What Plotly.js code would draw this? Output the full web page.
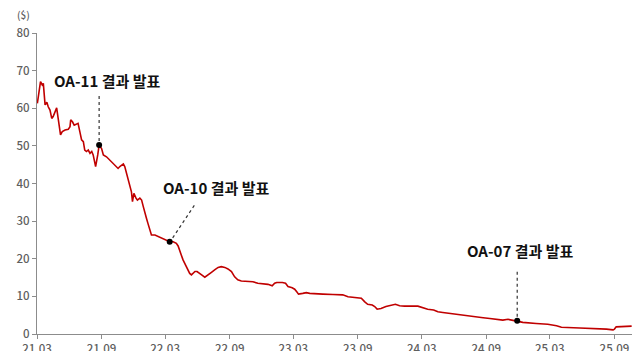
<!DOCTYPE html>
<html>
<head>
<meta charset="utf-8">
<script src="https://cdn.plot.ly/plotly-3.0.1.min.js"></script>
<style>
  html, body { margin: 0; padding: 0; background: #fff; }
  #chart { width: 640px; height: 351px; }
</style>
</head>
<body>
<div id="chart"></div>
<script>
// Share price, US dollars
const dates = [
  '2021-03-02','2021-03-05','2021-03-11','2021-03-16','2021-03-19','2021-03-24','2021-03-29',
  '2021-04-02','2021-04-07','2021-04-12','2021-04-16','2021-04-26','2021-04-30',
  '2021-05-07','2021-05-12','2021-05-20','2021-05-29','2021-06-03','2021-06-05','2021-06-10',
  '2021-06-15','2021-06-22','2021-06-26','2021-07-01','2021-07-06','2021-07-11','2021-07-15',
  '2021-07-20','2021-07-25','2021-07-30','2021-08-04','2021-08-08','2021-08-15','2021-08-21',
  '2021-08-25','2021-09-01','2021-09-06','2021-09-15','2021-09-25','2021-10-04','2021-10-14',
  '2021-10-18','2021-10-23','2021-11-02','2021-11-06','2021-11-11','2021-11-16','2021-11-21',
  '2021-11-25','2021-11-28','2021-12-02','2021-12-08','2021-12-12','2021-12-19','2021-12-24',
  '2021-12-29','2022-01-02','2022-01-07','2022-01-11','2022-01-16','2022-01-21','2022-01-31',
  '2022-02-09','2022-02-18','2022-02-28','2022-03-14','2022-03-24','2022-04-02','2022-04-07',
  '2022-04-12','2022-04-16','2022-04-21','2022-04-26','2022-05-01','2022-05-06','2022-05-10',
  '2022-05-15','2022-05-20','2022-05-25','2022-05-31','2022-06-06','2022-06-13','2022-06-22',
  '2022-07-02','2022-07-11','2022-07-21','2022-07-30','2022-08-08','2022-08-18','2022-08-27',
  '2022-09-06','2022-09-15','2022-09-24','2022-10-04','2022-10-18','2022-11-06','2022-11-20',
  '2022-12-05','2022-12-19','2022-12-31','2023-01-07','2023-01-13','2023-01-29','2023-02-07',
  '2023-02-14','2023-02-26','2023-03-05','2023-03-11','2023-03-16','2023-03-28','2023-04-07',
  '2023-04-17','2023-05-10','2023-05-24','2023-06-22','2023-07-20','2023-08-04','2023-08-18',
  '2023-09-11','2023-09-20','2023-09-29','2023-10-12','2023-10-19','2023-10-26','2023-11-06',
  '2023-11-20','2023-12-05','2023-12-17','2023-12-29','2024-01-12','2024-02-19','2024-03-04',
  '2024-03-18','2024-04-04','2024-04-16','2024-04-30','2024-05-29','2024-06-27','2024-07-25',
  '2024-08-23','2024-09-11','2024-10-18','2024-11-02','2024-11-28','2024-12-14','2025-01-21',
  '2025-02-23','2025-03-20','2025-04-03','2025-05-25','2025-07-11','2025-08-09','2025-08-28',
  '2025-09-01','2025-09-06','2025-09-20','2025-10-04','2025-10-20'
];
const prices = [
  61.3, 63.5, 67.1, 66.2, 66.6, 60.9, 61.6,
  60.4, 59.5, 57.3, 57.8, 60.1, 57.8,
  52.9, 53.8, 54.2, 54.4, 55.1, 56.9, 56.4,
  55.5, 55.7, 56.0, 53.8, 51.6, 51.1, 48.9,
  48.5, 48.9, 48.0, 48.5, 47.6, 44.5, 47.6,
  50.2, 49.3, 47.6, 47.1, 46.2, 45.4, 44.5,
  44.0, 44.5, 45.2, 44.5, 42.7, 40.5, 39.1,
  37.8, 35.2, 37.4, 36.1, 35.6, 36.1, 35.6,
  33.8, 32.1, 30.7, 29.4, 27.6, 26.3, 26.3,
  25.9, 25.4, 25.0, 24.5, 24.5, 24.1, 23.4,
  22.3, 21.0, 19.7, 18.8, 17.5, 16.6, 16.1,
  15.7, 16.1, 16.6, 16.6, 16.1, 15.7, 15.1,
  15.9, 16.4, 17.1, 17.7, 17.9, 17.7, 17.3,
  16.6, 15.2, 14.4, 14.1, 14.1, 13.9, 13.5,
  13.3, 13.2, 12.8, 13.5, 13.7, 13.7, 13.5,
  12.6, 12.3, 11.9, 11.2, 10.6, 10.8, 11.0,
  10.8, 10.8, 10.6, 10.5, 10.4, 9.9, 9.8,
  9.5, 8.6, 7.9, 7.7, 7.3, 6.6, 6.8,
  7.3, 7.7, 7.9, 7.5, 7.4, 7.4, 6.9,
  6.6, 6.4, 5.9, 5.7, 5.3, 4.9, 4.6,
  4.3, 4.1, 3.7, 3.9, 3.5, 3.1, 2.8,
  2.6, 2.2, 1.8, 1.6, 1.5, 1.3, 1.1,
  1.3, 1.9, 1.9, 1.9, 2.1
];

// Trial result announcements
const eventLabels = ['OA-11 결과 발표', 'OA-10 결과 발표', 'OA-07 결과 발표'];
const eventDates = ['2021-08-25', '2022-03-14', '2024-11-28'];
const eventValues = eventDates.map(d => prices[dates.indexOf(d)]);

const yTicks = [0, 10, 20, 30, 40, 50, 60, 70, 80];

// Leader-line and label offsets (px) relative to each event point
const leader = [
  { x0: 0, y0: 4, dx: 0, dy: 52, tx: 8, ty: 65 },
  { x0: 3, y0: 4, dx: 25, dy: 37, tx: 46, ty: 54 },
  { x0: 0, y0: 4, dx: 0, dy: 52, tx: 3, ty: 70 }
];

const axisColor = '#8c8c8c';
const fontStack = 'Noto Sans CJK KR, Noto Sans, sans-serif';
const tickFont = { family: fontStack, size: 11.5, color: '#5f5f5f', weight: 500 };

const traces = [
  {
    type: 'scatter', mode: 'lines',
    x: dates, y: prices,
    line: { color: '#c00000', width: 1.6 },
    hoverinfo: 'skip'
  },
  {
    type: 'scatter', mode: 'markers',
    x: eventDates, y: eventValues,
    marker: { color: '#000000', size: 6 },
    hoverinfo: 'skip'
  }
];

const shapes = eventDates.map((d, i) => ({
  type: 'line', xref: 'x', yref: 'y',
  xsizemode: 'pixel', ysizemode: 'pixel',
  xanchor: d, yanchor: eventValues[i],
  x0: leader[i].x0, y0: leader[i].y0,
  x1: leader[i].dx, y1: leader[i].dy,
  line: { color: '#333333', width: 1.2, dash: 'dot' }
}));

const annotations = eventDates.map((d, i) => ({
  x: d, y: eventValues[i], xref: 'x', yref: 'y',
  text: '<b>' + eventLabels[i] + '</b>',
  showarrow: false,
  xanchor: 'center', yanchor: 'middle',
  xshift: leader[i].tx, yshift: leader[i].ty,
  font: { family: fontStack, size: 15, color: '#111111' }
}));

// Unit label above the value axis
annotations.push({
  x: 0, y: 1, xref: 'paper', yref: 'paper',
  xanchor: 'center', yanchor: 'bottom',
  xshift: -14, yshift: 9,
  text: '($)', showarrow: false,
  font: { family: fontStack, size: 10, color: '#5f5f5f', weight: 500 }
});

const layout = {
  width: 640, height: 351,
  margin: { l: 37, r: 8, t: 33, b: 17, pad: 0 },
  paper_bgcolor: '#ffffff', plot_bgcolor: '#ffffff',
  showlegend: false,
  xaxis: {
    type: 'date',
    range: ['2021-03-01', '2025-10-21'],
    tick0: '2021-03-01', dtick: 'M6',
    tickformat: '%y.%m',
    ticks: 'outside', ticklen: 4, tickcolor: axisColor, tickwidth: 1,
    showline: true, linecolor: axisColor, linewidth: 1.2,
    showgrid: false, zeroline: false,
    tickfont: tickFont,
    fixedrange: true
  },
  yaxis: {
    range: [0, 80],
    tickvals: yTicks,
    ticks: 'outside', ticklen: 4, tickcolor: axisColor, tickwidth: 1,
    showline: true, linecolor: axisColor, linewidth: 1.2,
    showgrid: false, zeroline: false,
    tickfont: tickFont,
    fixedrange: true
  },
  shapes: shapes,
  annotations: annotations
};

Plotly.newPlot('chart', traces, layout, { displayModeBar: false, staticPlot: true });
</script>
</body>
</html>
